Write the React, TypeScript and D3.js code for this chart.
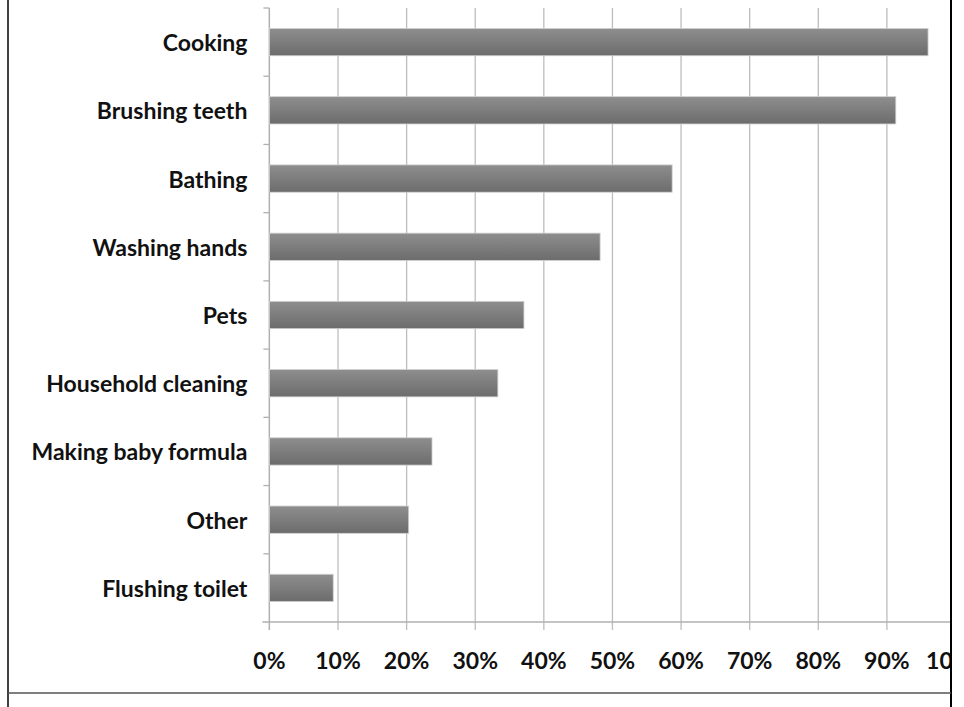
import * as d3 from "d3";
import React from "react";

const categories = [
  "Cooking",
  "Brushing teeth",
  "Bathing",
  "Washing hands",
  "Pets",
  "Household cleaning",
  "Making baby formula",
  "Other",
  "Flushing toilet",
];
const shares = [0.96, 0.913, 0.587, 0.482, 0.371, 0.333, 0.237, 0.203, 0.093];
const xTicks = [0, 0.1, 0.2, 0.3, 0.4, 0.5, 0.6, 0.7, 0.8, 0.9, 1.0];

const W = 964;
const H = 707;
const plot = { left: 269.4, top: 8, right: 955.5, bottom: 622 };
const font = "Lato, 'Open Sans', sans-serif";

export default function App() {
  const x = d3.scaleLinear().domain([0, 1]).range([plot.left, plot.right]);
  const y = d3
    .scaleBand()
    .domain(categories)
    .range([plot.top, plot.bottom])
    .paddingInner(0.6)
    .paddingOuter(0.3);
  const step = y.step();
  const edges = d3.range(categories.length + 1).map((i) => plot.top + i * step);

  return (
    <svg
      width={W}
      height={H}
      style={{ position: "absolute", left: 0, top: 0, background: "#fff" }}
    >
      <defs>
        <linearGradient id="barGrad" x1="0" y1="0" x2="0" y2="1">
          <stop offset="0%" stopColor="#8e8e8e" />
          <stop offset="100%" stopColor="#6c6c6c" />
        </linearGradient>
        <clipPath id="frame">
          <rect x={0} y={0} width={950} height={H} />
        </clipPath>
      </defs>
      <g clipPath="url(#frame)">
        {/* gridlines + ticks below the axis */}
        {xTicks.map((t) => (
          <line
            key={t}
            x1={x(t)}
            x2={x(t)}
            y1={plot.top}
            y2={plot.bottom + 8}
            stroke="#bdbdbd"
            strokeWidth={1.3}
          />
        ))}
        {/* x axis */}
        <line
          x1={plot.left - 7}
          x2={plot.right}
          y1={plot.bottom}
          y2={plot.bottom}
          stroke="#b0b0b0"
          strokeWidth={1.3}
        />
        {/* y axis and ticks */}
        <line
          x1={plot.left}
          x2={plot.left}
          y1={plot.top}
          y2={plot.bottom + 8}
          stroke="#b0b0b0"
          strokeWidth={1.3}
        />
        {edges.slice(0, -1).map((e, i) => (
          <line
            key={i}
            x1={plot.left - 6}
            x2={plot.left}
            y1={e}
            y2={e}
            stroke="#b0b0b0"
            strokeWidth={1.3}
          />
        ))}
        {categories.map((c, i) => (
          <rect
            key={c}
            x={x(0)}
            y={y(c)}
            width={x(shares[i]) - x(0)}
            height={y.bandwidth()}
            fill="url(#barGrad)"
            stroke="#d0d0d0"
            strokeWidth={0.8}
          />
        ))}
        {categories.map((c) => (
          <text
            key={c}
            x={plot.left - 22}
            y={(y(c) ?? 0) + y.bandwidth() / 2}
            textAnchor="end"
            dominantBaseline="central"
            fontFamily={font}
            fontWeight={700}
            fontSize={23}
            fill="#111"
          >
            {c}
          </text>
        ))}
        {xTicks.map((t) => (
          <text
            key={t}
            x={x(t)}
            y={660}
            textAnchor="middle"
            dominantBaseline="central"
            fontFamily={font}
            fontWeight={700}
            fontSize={23}
            fill="#111"
          >
            {d3.format(".0%")(t)}
          </text>
        ))}
      </g>
      {/* outer frame */}
      <line x1={8} x2={8} y1={0} y2={H} stroke="#000" strokeWidth={1.5} />
      <line x1={951} x2={951} y1={0} y2={H} stroke="#000" strokeWidth={2} />
      <line x1={8} x2={951} y1={693} y2={693} stroke="#555" strokeWidth={1.3} />
    </svg>
  );
}
